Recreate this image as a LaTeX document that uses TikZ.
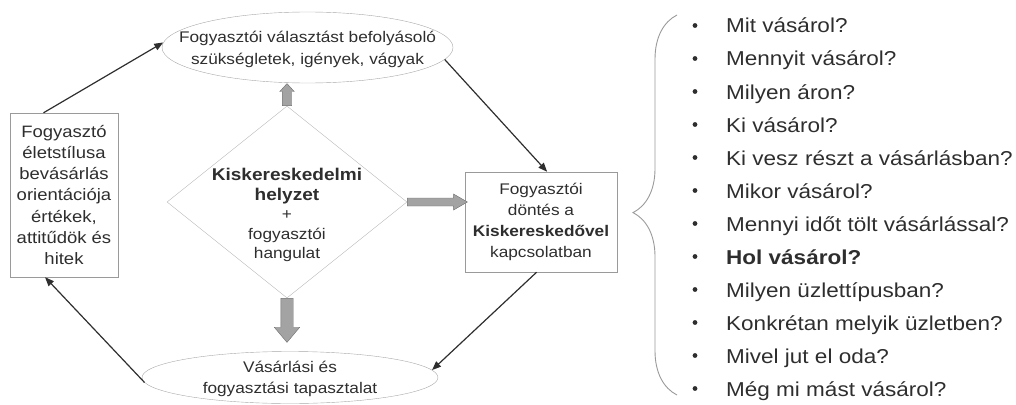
\documentclass[tikz,border=0pt]{standalone}
\usepackage{fontspec}
\setmainfont{Liberation Sans}[FakeStretch=1.12]
\usetikzlibrary{arrows.meta, positioning, shapes.geometric, shapes.arrows, decorations.pathreplacing, calc}
\definecolor{edgegray}{HTML}{A8A8A8}
\definecolor{boxgray}{HTML}{9A9A9A}
\definecolor{blockfill}{HTML}{A3A3A3}
\definecolor{blockdraw}{HTML}{6E6E6E}
\definecolor{inkgray}{HTML}{2E2E2E}

\begin{document}
\begin{tikzpicture}[x=1pt, y=-1pt,
  bubble/.style={ellipse, draw=edgegray, inner sep=0pt},
  panel/.style={rectangle, draw=boxgray, inner sep=0pt, align=center, text=inkgray},
  words/.style={inner sep=0pt, align=center, text=inkgray, font=\fontsize{15.4}{21}\selectfont},
  link/.style={-{Triangle[length=9pt,width=7pt]}, line width=1.2pt, draw=inkgray},
  fat/.style={single arrow, fill=blockfill, draw=blockdraw, inner xsep=0pt, anchor=tail},
  question/.style={anchor=base west, inner sep=0pt, text=inkgray, font=\fontsize{20.1}{24}\selectfont}]
  \useasboundingbox (0,0) rectangle (1016,404);

  % cycle
  \node[bubble, minimum width=291pt, minimum height=71pt] (need) at (307.5,47.5) {};
  \node[words, font=\fontsize{15.4}{22}\selectfont] (needtext) at (307.5,49) {Fogyasztói választást befolyásoló\\ szükségletek, igények, vágyak};
  \node[panel, minimum width=108pt, minimum height=164pt, font=\fontsize{16.5}{21.3}\selectfont] (lifestyle) at (64,195)
    {Fogyasztó\\ életstílusa\\ bevásárlás\\ orientációja\\ értékek,\\ attitűdök és\\ hitek};
  \node[diamond, draw=edgegray!80, minimum width=240pt, minimum height=192pt, inner sep=0pt] (situation) at (287,202) {};
  \node[words, font=\fontsize{15.4}{19.5}\selectfont] (situationtext) at (287,215)
    {{\bfseries\fontsize{17}{19.5}\selectfont Kiskereskedelmi}\\ {\bfseries\fontsize{17}{19.5}\selectfont helyzet}\\ +\\ fogyasztói\\ hangulat};
  \node[panel, minimum width=152pt, minimum height=100pt, font=\fontsize{15.4}{21}\selectfont] (decision) at (541,222)
    {Fogyasztói\\ döntés a\\ \textbf{Kiskereskedővel}\\ kapcsolatban};
  \node[bubble, minimum width=296pt, minimum height=52pt] (experience) at (290,377.5) {};
  \node[words] (experiencetext) at (290,379) {Vásárlási és\\ fogyasztási tapasztalat};

  \draw[link] (lifestyle.104) -- (need.178);
  \draw[link] (need.-5) -- (decision.83);
  \draw[link] (decision.265) -- (experience.3);
  \draw[link] (experience.182) -- (lifestyle.257);

  % gray block arrows out of the diamond
  \node[fat, at=(situation.north), rotate=90, minimum height=22pt, inner ysep=4.5pt,
    single arrow head extend=2.5pt, single arrow tip angle=85] (up) {};
  \node[fat, at=(situation.east), minimum height=60pt, inner ysep=3.8pt,
    single arrow head extend=4pt, single arrow tip angle=60] (right) {};
  \node[fat, at=(situation.south), rotate=-90, minimum height=44pt, inner ysep=6pt,
    single arrow head extend=6.5pt, single arrow tip angle=80] (down) {};

  % questions
  \draw[boxgray, line width=0.9pt, decorate, decoration={brace, amplitude=44pt, aspect=0.48}]
    (677,395) -- (677,15);
  \foreach \q [count=\i] in {Mit vásárol?, Mennyit vásárol?, Milyen áron?, Ki vásárol?,
      Ki vesz részt a vásárlásban?, Mikor vásárol?, Mennyi időt tölt vásárlással?,
      \textbf{Hol vásárol?}, Milyen üzlettípusban?, Konkrétan melyik üzletben?,
      Mivel jut el oda?, Még mi mást vásárol?}
  {
    \node[question] (q\i) at (726,{33+33*(\i-1)}) {\q};
    \fill[inkgray] ($(q\i.base west)+(-31,-7.5)$) circle (2.4);
  }
\end{tikzpicture}
\end{document}
